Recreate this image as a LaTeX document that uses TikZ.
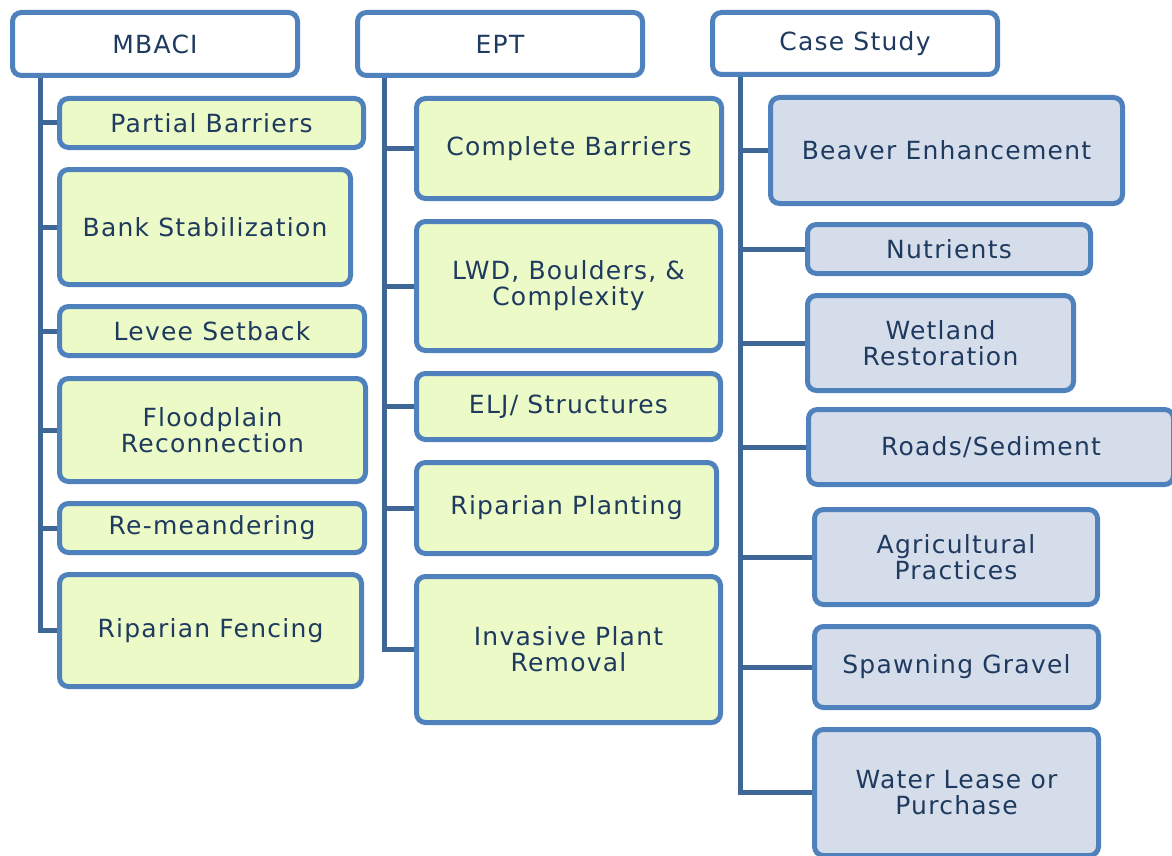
\documentclass[tikz,border=0pt]{standalone}
\usepackage{fontspec}
\setmainfont{DejaVu Sans}[LetterSpace=5]
\usepackage{tikz}
\usetikzlibrary{positioning,calc}

\definecolor{edgeblue}{HTML}{4F81BD}
\definecolor{linkblue}{HTML}{3E6797}
\definecolor{txtblue}{HTML}{1F3A5F}
\definecolor{leaf}{HTML}{EBFAC6}
\definecolor{slate}{HTML}{D5DDEA}

\tikzset{
  box/.style={draw=edgeblue, line width=5pt, rounded corners=9pt, text=txtblue,
    align=center, inner sep=0pt, font=\fontsize{25}{26}\selectfont},
  hdr/.style={box, fill=white, minimum width=285pt, minimum height=63pt},
  greenbox/.style={box, fill=leaf},
  bluebox/.style={box, fill=slate},
  link/.style={draw=linkblue, line width=5pt}
}

\begin{document}
\begin{tikzpicture}[x=1pt,y=-1pt]
        \useasboundingbox (0,0) rectangle (1172,856);
        \clip (0,0) rectangle (1172,856);

        % Column headers
        \node[hdr] (mbaci) at (155,44) {MBACI};
        \node[hdr] (ept) at (500,44) {EPT};
        \node[hdr, minimum height=62pt] (case) at (855,43.5) {Case Study};

        % MBACI items
        \node[greenbox, minimum width=304pt, minimum height=49pt] (pb) at (211.5,123) {Partial Barriers};
        \node[greenbox, minimum width=291pt, minimum height=115pt] (bs) at (205,227) {Bank Stabilization};
        \node[greenbox, minimum width=305pt, minimum height=49pt] (ls) at (212,331) {Levee Setback};
        \node[greenbox, minimum width=306pt, minimum height=103pt] (fr) at (212.5,430) {Floodplain\\Reconnection};
        \node[greenbox, minimum width=305pt, minimum height=49pt] (rm) at (212,528) {Re-meandering};
        \node[greenbox, minimum width=302pt, minimum height=112pt] (rf) at (210.5,630.5) {Riparian Fencing};

        % EPT items
        \node[greenbox, minimum width=305pt, minimum height=100pt] (cb) at (569,148.5) {Complete Barriers};
        \node[greenbox, minimum width=304pt, minimum height=129pt] (lwd) at (568.5,286) {LWD, Boulders, \&\\Complexity};
        \node[greenbox, minimum width=304pt, minimum height=66pt] (elj) at (568.5,406.5) {ELJ/ Structures};
        \node[greenbox, minimum width=300pt, minimum height=91pt] (rp) at (566.5,508) {Riparian Planting};
        \node[greenbox, minimum width=304pt, minimum height=146pt] (ipr) at (568.5,649.5) {Invasive Plant\\Removal};

        % Case study items
        \node[bluebox, minimum width=352pt, minimum height=106pt] (be) at (946.5,150.5) {Beaver Enhancement};
        \node[bluebox, minimum width=283pt, minimum height=49pt] (nu) at (949,249) {Nutrients};
        \node[bluebox, minimum width=266pt, minimum height=95pt] (wr) at (940.5,343) {Wetland\\Restoration};
        \node[bluebox, minimum width=365pt, minimum height=75pt] (rs) at (991,447) {Roads/Sediment};
        \node[bluebox, minimum width=283pt, minimum height=95pt] (ap) at (956,557) {Agricultural\\Practices};
        \node[bluebox, minimum width=284pt, minimum height=81pt] (sg) at (956.5,667) {Spawning Gravel};
        \node[bluebox, minimum width=284pt, minimum height=126pt] (wl) at (956.5,792.5) {Water Lease or\\Purchase};

        % Trunks
        \coordinate (mt) at ($(mbaci.south west)+(30,0)$);
        \coordinate (et) at ($(ept.south west)+(29,0)$);
        \coordinate (ct) at ($(case.south west)+(30,0)$);
        \draw[link] (mt) -- (mt |- rf.west) -- (rf.west);
        \draw[link] (et) -- (et |- ipr.west) -- (ipr.west);
        \draw[link] (ct) -- (ct |- wl.west) -- (wl.west);

        % Branches
        \foreach \k in {pb,bs,ls,fr,rm}
          \draw[link] (mt |- \k.west) -- (\k.west);
        \foreach \k in {cb,lwd,elj,rp}
          \draw[link] (et |- \k.west) -- (\k.west);
        \foreach \k in {be,nu,wr,rs,ap,sg}
          \draw[link] (ct |- \k.west) -- (\k.west);
\end{tikzpicture}
\end{document}
